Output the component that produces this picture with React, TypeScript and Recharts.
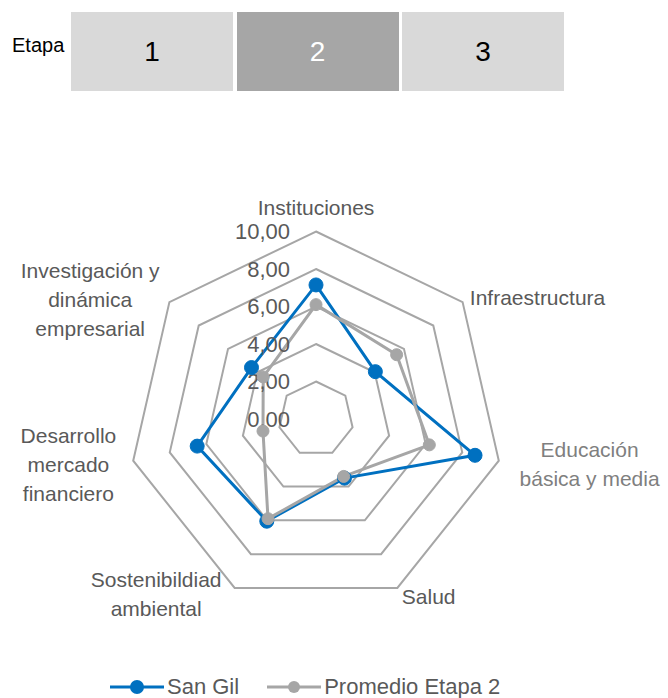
import React from 'react';
import { RadarChart, Radar, PolarGrid, PolarAngleAxis, PolarRadiusAxis, Legend } from 'recharts';

// DATA
const categories = [
    'Instituciones',
    'Infraestructura',
    'Educación básica y media',
    'Salud',
    'Sostenibildiad ambiental',
    'Desarrollo mercado financiero',
    'Investigación y dinámica empresarial',
];
const sanGil = [7.15, 4.05, 8.7, 3.5, 6.05, 6.5, 4.4];
const promedioEtapa2 = [6.1, 5.5, 6.2, 3.4, 5.9, 2.9, 3.6];
const radiusTicks = [0, 2, 4, 6, 8, 10];
const etapas = ['1', '2', '3'];
const etapaActiva = '2';

const data = categories.map((name, i) => ({ name, sanGil: sanGil[i], promedio: promedioEtapa2[i] }));

const FONT = '"Liberation Sans Narrow", "Arial Narrow", "Liberation Sans", sans-serif';
const BLUE = '#0070C0';
const GRAY = '#A6A6A6';
const TEXT = '#595959';

// label layout (text only)
const labelLayout: Record<string, { lines: string[], dx: number, dy: number, anchor: 'start' | 'middle' | 'end', color?: string }> = {
    'Instituciones': { lines: ['Instituciones'], dx: 0, dy: -16, anchor: 'middle' },
    'Infraestructura': { lines: ['Infraestructura'], dx: 1, dy: 1, anchor: 'start' },
    'Educación básica y media': { lines: ['Educación', 'básica y media'], dx: 83, dy: 2, anchor: 'middle', color: '#7F7F7F' },
    'Salud': { lines: ['Salud'], dx: 1, dy: 2, anchor: 'start' },
    'Sostenibildiad ambiental': { lines: ['Sostenibildiad', 'ambiental'], dx: -75, dy: -1, anchor: 'middle' },
    'Desarrollo mercado financiero': { lines: ['Desarrollo', 'mercado', 'financiero'], dx: -57, dy: 2, anchor: 'middle' },
    'Investigación y dinámica empresarial': { lines: ['Investigación y', 'dinámica', 'empresarial'], dx: -73, dy: 3, anchor: 'middle' },
};

const LINE_H = 29;

const AngleTick = (props: any) => {
    const { x, y, payload } = props;
    const cfg = labelLayout[payload.value];
    const top = y + cfg.dy - ((cfg.lines.length - 1) * LINE_H) / 2;
    return (
        <text x={x + cfg.dx} y={top} textAnchor={cfg.anchor} fill={cfg.color || TEXT} fontSize={21} fontFamily={FONT}>
            {cfg.lines.map((l, i) => (
                <tspan key={i} x={x + cfg.dx} y={top + i * LINE_H} dy="0.35em">{l}</tspan>
            ))}
        </text>
    );
};

const RadiusTick = (props: any) => {
    const { x, y, payload } = props;
    return (
        <text x={x - 26} y={y} dy="0.35em" textAnchor="end" fill={TEXT} fontSize={22} fontFamily={FONT}>
            {Number(payload.value).toFixed(2).replace('.', ',')}
        </text>
    );
};

const LegendContent = () => (
    <div style={{ display: 'flex', alignItems: 'center', fontFamily: FONT, fontSize: 22, color: TEXT, paddingLeft: 110 }}>
        {[{ label: 'San Gil', color: BLUE, r: 7 }, { label: 'Promedio Etapa 2', color: GRAY, r: 6 }].map((s) => (
            <div key={s.label} style={{ display: 'flex', alignItems: 'center', marginRight: 28 }}>
                <svg width={54} height={20}>
                    <line x1={0} y1={10} x2={54} y2={10} stroke={s.color} strokeWidth={3} />
                    <circle cx={27} cy={10} r={s.r} fill={s.color} />
                </svg>
                <span style={{ marginLeft: 3 }}>{s.label}</span>
            </div>
        ))}
    </div>
);

// COMPONENT
const App: React.FC = () => {
    return (
        <div style={{ position: 'relative', width: 668, height: 698, background: '#fff', fontFamily: FONT }}>
            <style>{`body{margin:0}`}</style>
            <div style={{ position: 'absolute', left: 12, top: 34, fontSize: 20, color: '#000' }}>Etapa</div>
            {etapas.map((e, i) => (
                <div key={e} style={{
                    position: 'absolute', left: 71 + i * 165.5, top: 12, width: 162, height: 79,
                    background: e === etapaActiva ? '#A6A6A6' : '#D9D9D9',
                    color: e === etapaActiva ? '#fff' : '#000',
                    display: 'flex', alignItems: 'center', justifyContent: 'center', fontSize: 28,
                }}>{e}</div>
            ))}
            <div style={{ position: 'absolute', left: 0, top: 0 }}>
                <RadarChart width={668} height={698} data={data} cx={316} cy={419} outerRadius={187.5} startAngle={90} endAngle={-270}>
                    <PolarGrid gridType="polygon" radialLines={false} stroke={GRAY} strokeWidth={2} />
                    <PolarAngleAxis dataKey="name" tick={<AngleTick />} tickLine={false} axisLine={false} />
                    <PolarRadiusAxis angle={90} domain={[0, 10]} ticks={radiusTicks as any} tickCount={6} tick={<RadiusTick />} axisLine={false} tickLine={false} />
                    <Radar name="San Gil" dataKey="sanGil" stroke={BLUE} strokeWidth={3} fill="none" fillOpacity={0}
                        dot={{ r: 7, fill: BLUE, stroke: BLUE, strokeWidth: 1, fillOpacity: 1 }} isAnimationActive={false} />
                    <Radar name="Promedio Etapa 2" dataKey="promedio" stroke={GRAY} strokeWidth={3} fill="none" fillOpacity={0}
                        dot={{ r: 6, fill: GRAY, stroke: GRAY, strokeWidth: 1, fillOpacity: 1 }} isAnimationActive={false} />
                    <Legend content={<LegendContent />} wrapperStyle={{ position: 'absolute', left: 0, top: 674, width: 668 }} />
                </RadarChart>
            </div>
        </div>
    );
};

export default App;
